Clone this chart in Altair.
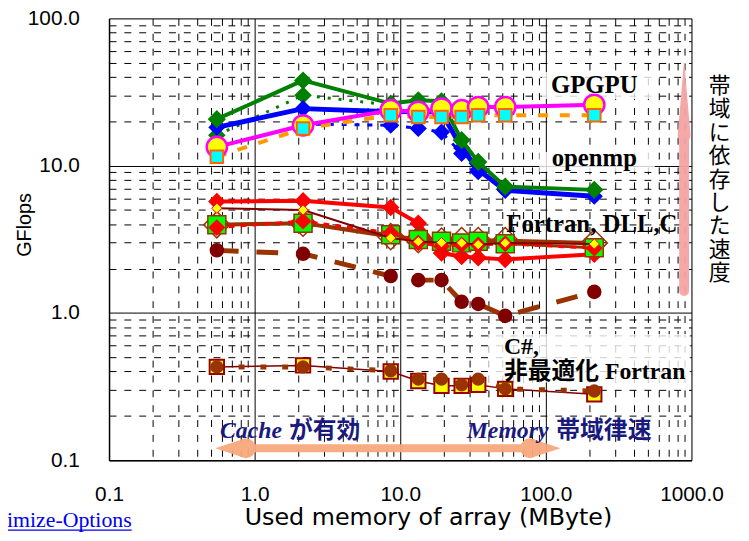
import altair as alt
import pandas as pd

# ---------------- data ----------------
x_mb = [0.55, 2.15, 8.6, 13.3, 19.2, 26.4, 34.3, 52.6, 215]

gpgpu_circle = [13.4, 18.8, 23.8, 23.2, 24.4, 23.8, 25.0, 25.0, 25.9]
gpgpu_square = [11.5, 17.9, 22.0, 21.4, 21.4, 21.4, 22.0, 22.0, 22.0]
omp_green = [20.7, 37.9, 26.4, 27.8, 27.4, 14.9, 10.6, 7.2, 6.85]
omp_green_dot = [16.1, 30.1, 25.8, None, None, None, None, None, None]
omp_blue = [18.2, 24.4, 23.2, 23.4, 23.0, 13.2, 9.4, 6.8, 6.2]
omp_blue_dot = [None, 19.2, 18.8, 17.9, 16.9, 12.1, 9.1, 7.0, None]
f_red = [5.71, 5.77, 5.2, 4.07, 2.55, 2.42, 2.37, 2.31, 2.5]
f_red_dash = [3.8, 4.2, 3.49, 2.99, 2.84, 2.9, 2.9, 2.95, 2.75]
f_brown_diamond = [3.97, 4.07, 3.3, 3.15, 3.07, 3.1, 3.1, 3.1, 2.99]
f_brown_square = [3.97, 4.07, 3.4, 3.15, 3.07, 2.99, 3.07, 2.95, 2.77]
f_darkred_yellow = [5.14, 5.0, 3.23, 3.05, 3.0, 2.99, 2.91, 2.99, 2.94]
f_circle = [2.66, 2.52, 1.78, 1.67, 1.67, 1.19, 1.15, 0.955, 1.39]
cs_square = [0.43, 0.44, 0.40, 0.345, 0.32, 0.32, 0.325, 0.305, 0.28]
cs_circle = [0.43, 0.43, 0.405, 0.355, 0.355, 0.325, 0.355, 0.305, 0.295]

x_ticks = [round(m * 10 ** e, 6) for e in range(-1, 3) for m in range(1, 10)] + [1000]
y_ticks = [round(m * 10 ** e, 6) for e in range(-1, 2) for m in range(1, 10)] + [100]

x_title = "Used memory of array (MByte)"
y_title = "GFlops"

# annotation anchors (data coordinates)
label_rows = [
    {"x": 215, "y": 31.1, "t": "GPGPU"},
    {"x": 215, "y": 10.0, "t": "openmp"},
    {"x": 207, "y": 3.53, "t": "Fortran, DLL,C"},
]
cs_rows = [
    {"x": 51.5, "y": 0.528, "t": "C#,"},
    {"x": 51.5, "y": 0.358, "t": "非最適化 Fortran"},
]
boxes = [
    {"x": 94, "x2": 560, "y": 43.2, "y2": 28.4},
    {"x": 90, "x2": 560, "y": 12.4, "y2": 9.1},
    {"x": 40.2, "x2": 980, "y": 0.72, "y2": 0.337},
]
vertical_text = ["帯", "域", "に", "依", "存", "し", "た", "速", "度"]

# ---------------- encodings ----------------
major = "abs(log(datum.value)/LN10 - round(log(datum.value)/LN10)) < 1e-6"
label_expr = f"{major} ? format(datum.value, '.1f') : ''"

X = alt.X(
    "x:Q",
    scale=alt.Scale(type="log", domain=[0.1, 1000], nice=False),
    axis=alt.Axis(
        values=x_ticks, labelExpr=label_expr, labelOverlap=False, labelFlush=False,
        grid=True, gridColor="black", gridWidth=1, gridOpacity=1,
        gridDash={"condition": {"test": major, "value": []}, "value": [7, 8]},
        ticks=False, domainColor="black", domainWidth=1.5,
        labelFont="Liberation Sans", labelFontSize=21, labelColor="black", labelPadding=24,
        title=x_title, titleFont="DejaVu Sans", titleFontSize=24, titleFontWeight="normal",
        titleColor="black", titleX=322, titleY=58, titleBaseline="middle",
    ),
)
Y = alt.Y(
    "y:Q",
    scale=alt.Scale(type="log", domain=[0.1, 100], nice=False),
    axis=alt.Axis(
        values=y_ticks, labelExpr=label_expr, labelOverlap=False, labelFlush=False,
        grid=True, gridColor="black", gridWidth=1, gridOpacity=1,
        gridDash={"condition": {"test": major, "value": []}, "value": [7, 8]},
        ticks=False, domainColor="black", domainWidth=1.5,
        labelFont="Liberation Sans", labelFontSize=21, labelColor="black", labelPadding=30,
        title=y_title, titleFont="Liberation Sans", titleFontSize=20, titleFontWeight="normal",
        titleColor="black", titleX=-85, titleY=208, titleBaseline="middle", titleAngle=-90,
    ),
)


def frame(vals):
    return pd.DataFrame({"x": [a for a, v in zip(x_mb, vals) if v is not None],
                         "y": [v for v in vals if v is not None]})


def series(vals, line, point):
    df = frame(vals)
    ln = alt.Chart(df).mark_line(**line).encode(x=X, y=Y)
    pt = alt.Chart(df).mark_point(opacity=1, **point).encode(x=X, y=Y)
    return [ln, pt]


layers = []
# white label boxes
layers.append(alt.Chart(pd.DataFrame(boxes)).mark_rect(color="white", opacity=0.8).encode(
    x=X, x2="x2:Q", y="y:Q", y2="y2:Q"))

# pink vertical arrow (trail)
pink = pd.DataFrame({"x": [890] * 4, "y": [1.41, 16.0, 16.0, 50.0], "w": [10, 10, 13, 0.5], "o": [0, 1, 2, 3]})
layers.append(alt.Chart(pink).mark_trail(color="#f4a3a3", opacity=0.95).encode(
    x=X, y=Y, size=alt.Size("w:Q", scale=None, legend=None), order="o:Q"))
# orange double arrow
orange = pd.DataFrame({"x": [0.543, 0.87, 0.88, 77.0, 78.0, 124.5], "y": [0.1205] * 6,
                       "w": [0.5, 20, 8, 8, 20, 0.5], "o": [0, 1, 2, 3, 4, 5]})
layers.append(alt.Chart(orange).mark_trail(color="#f7a87a", opacity=0.95).encode(
    x=X, y=Y, size=alt.Size("w:Q", scale=None, legend=None), order="o:Q"))

# C# / non-optimised Fortran
layers += series(cs_square, dict(color="#800000", strokeWidth=1.5),
                 dict(shape="square", size=210, filled=True, fill="#ffff00", stroke="#990000", strokeWidth=2))
layers += series(cs_circle, dict(color="#993300", strokeWidth=5, strokeDash=[6, 16]),
                 dict(shape="circle", size=130, filled=True, fill="#993300", stroke="#993300"))

# Fortran / DLL / C
layers += series(f_circle, dict(color="#993300", strokeWidth=5, strokeDash=[22, 18]),
                 dict(shape="circle", size=160, filled=True, fill="#800000", stroke="#800000"))
layers += series(f_red, dict(color="#ff0000", strokeWidth=4),
                 dict(shape="diamond", size=220, filled=True, fill="#ff0000", stroke="#ff0000"))
layers += series(f_brown_diamond, dict(color="#993300", strokeWidth=4),
                 dict(shape="diamond", size=700, filled=False, color="#993300", strokeWidth=1.5))
layers += series(f_brown_square, dict(color="#993300", strokeWidth=3),
                 dict(shape="square", size=330, filled=True, fill="#00ff00", stroke="#993300", strokeWidth=1.5))
layers += series(f_red_dash, dict(color="#ff0000", strokeWidth=3, strokeDash=[6, 6]),
                 dict(shape="diamond", size=200, filled=True, fill="#ff0000", stroke="#ff0000"))
layers += series(f_darkred_yellow, dict(color="#800000", strokeWidth=2),
                 dict(shape="diamond", size=110, filled=True, fill="#ffff00", stroke="#ff0000", strokeWidth=1))

# openmp
layers += series(omp_green_dot, dict(color="#008000", strokeWidth=3, strokeDash=[3, 8]),
                 dict(shape="diamond", size=220, filled=True, fill="#008000", stroke="#008000"))
layers += series(omp_blue_dot, dict(color="#0000ff", strokeWidth=3, strokeDash=[5, 8]),
                 dict(shape="diamond", size=210, filled=True, fill="#0000ff", stroke="#0000ff"))
layers += series(omp_blue, dict(color="#0000ff", strokeWidth=5),
                 dict(shape="diamond", size=210, filled=True, fill="#0000ff", stroke="#0000ff"))
layers += series(omp_green, dict(color="#008000", strokeWidth=4),
                 dict(shape="diamond", size=240, filled=True, fill="#008000", stroke="#008000"))

# GPGPU
gs_line = alt.Chart(frame(gpgpu_square)).mark_line(color="#ff9900", strokeWidth=4, strokeDash=[10, 12]).encode(x=X, y=Y)
gc_line = alt.Chart(frame(gpgpu_circle)).mark_line(color="#ff00ff", strokeWidth=4).encode(x=X, y=Y)
gc_pt = alt.Chart(frame(gpgpu_circle)).mark_point(shape="circle", size=420, filled=True, fill="#ffff00",
                                                  stroke="#ff00ff", strokeWidth=2.5, opacity=1).encode(x=X, y=Y)
gs_pt = alt.Chart(frame(gpgpu_square)).mark_point(shape="square", size=160, filled=True, fill="#00ffff",
                                                  stroke="#ff6600", strokeWidth=2, opacity=1).encode(x=X, y=Y)
layers += [gs_line, gc_line, gc_pt, gs_pt]

# texts
serif_b = "Liberation Serif, 'Noto Serif CJK JP', 'Noto Sans CJK JP'"
layers.append(alt.Chart(pd.DataFrame(label_rows)).mark_text(
    font=serif_b, fontWeight="bold", fontSize=25, color="black", align="center", baseline="alphabetic"
).encode(x=X, y=Y, text="t:N"))
layers.append(alt.Chart(pd.DataFrame(cs_rows)).mark_text(
    font="Liberation Serif, 'Noto Sans CJK JP'", fontWeight="bold", fontSize=24, color="black",
    align="left", baseline="alphabetic"
).encode(x=X, y=Y, text="t:N"))

navy = "#1a1a7e"
region_rows = pd.DataFrame([
    {"x": 0.578, "y": 0.141, "t": "Cache", "f": "i"},
    {"x": 1.72, "y": 0.141, "t": "が有効", "f": "n"},
    {"x": 28.6, "y": 0.141, "t": "Memory", "f": "i"},
    {"x": 118.0, "y": 0.141, "t": "帯域律速", "f": "n"},
])
layers.append(alt.Chart(region_rows[region_rows.f == "i"]).mark_text(
    font="Liberation Serif", fontStyle="italic", fontWeight="bold", fontSize=24, color=navy,
    align="left", baseline="alphabetic").encode(x=X, y=Y, text="t:N"))
layers.append(alt.Chart(region_rows[region_rows.f == "n"]).mark_text(
    font="Noto Sans CJK JP", fontWeight="bold", fontSize=24, color=navy,
    align="left", baseline="alphabetic").encode(x=X, y=Y, text="t:N"))

layers.append(alt.Chart(pd.DataFrame({"x": [1560], "y": [40.5]})).mark_text(
    text=vertical_text, font="Noto Sans CJK JP", fontSize=22, lineHeight=23.6, color="black",
    align="center", baseline="top").encode(x=X, y=Y))

# page link fragment at the bottom-left
layers.append(alt.Chart(pd.DataFrame({"x": [0.143], "y": [0.0352], "t": ["imize-Options"]})).mark_text(
    font="Liberation Serif", fontSize=22, color="#0000ee", align="right", baseline="alphabetic"
).encode(x=X, y=Y, text="t:N"))
layers.append(alt.Chart(pd.DataFrame({"x": [0.02], "x2": [0.143], "y": [0.0335]})).mark_rule(
    color="#0000ee", strokeWidth=1.2).encode(x=X, x2="x2:Q", y=Y))

chart = alt.layer(*layers).properties(
    width=588, height=446,
    autosize=alt.AutoSizeParams(type="none"),
    padding={"left": 102, "top": 8, "right": 50, "bottom": 71},
).configure_view(stroke="#888888", strokeWidth=2).configure(background="white")

chart.save("out.html", embed_options={"renderer": "svg", "actions": False})
